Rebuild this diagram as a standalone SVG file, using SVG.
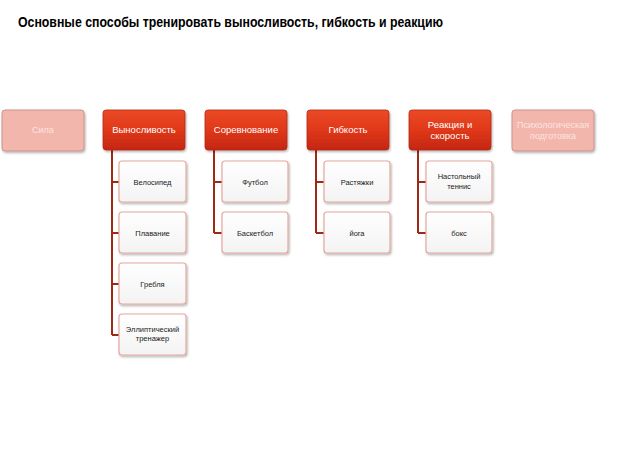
<svg xmlns="http://www.w3.org/2000/svg" width="620" height="465" viewBox="0 0 620 465">
<defs>
<linearGradient id="hg" x1="0" y1="0" x2="0" y2="1">
<stop offset="0" stop-color="#ea4a26"/>
<stop offset="0.5" stop-color="#e0381a"/>
<stop offset="1" stop-color="#c42610"/>
</linearGradient>
<linearGradient id="cg" x1="0" y1="0" x2="0" y2="1">
<stop offset="0" stop-color="#ffffff"/>
<stop offset="1" stop-color="#f3f3f3"/>
</linearGradient>
<filter id="sh" x="-10%" y="-10%" width="130%" height="140%">
<feDropShadow dx="1" dy="1.5" stdDeviation="1.2" flood-color="#000" flood-opacity="0.3"/>
</filter>
</defs>
<style>
.title{font-family:"Liberation Sans",Arial,sans-serif;font-weight:bold;font-size:15.5px;fill:#000}
.hd{fill:url(#hg);stroke:#b22a14;stroke-width:0.8;filter:url(#sh)}
.fd{fill:#f3b6ac;stroke:#c8938b;stroke-width:1;filter:url(#sh)}
.ch{fill:url(#cg);stroke:#e6a89e;stroke-width:1.2;filter:url(#sh)}
.ht{font-family:"Liberation Sans",Arial,sans-serif;font-size:9.5px;fill:#ffffff;text-anchor:middle}
.ft{font-family:"Liberation Sans",Arial,sans-serif;font-size:9px;fill:#fbe4e0;text-anchor:middle}
.ct{font-family:"Liberation Sans",Arial,sans-serif;font-size:7.5px;fill:#1a1a1a;text-anchor:middle}
.cn{fill:none;stroke:#9e2a16;stroke-width:2}
</style>
<rect width="620" height="465" fill="#ffffff"/>
<text class="title" x="18" y="27" textLength="425" lengthAdjust="spacingAndGlyphs">Основные способы тренировать выносливость, гибкость и реакцию</text>

<g id="connectors">
<path class="cn" d="M112,150 V335 M112,182 H119 M112,233 H119 M112,284 H119 M112,335 H119"/>
<path class="cn" d="M214,150 V233 M214,182 H222 M214,233 H222"/>
<path class="cn" d="M316,150 V233 M316,182 H324 M316,233 H324"/>
<path class="cn" d="M418,150 V233 M418,182 H426 M418,233 H426"/>
</g>

<g id="sila"><rect class="fd" x="2" y="110" width="82" height="41" rx="3"/><text class="ft" x="43" y="133">Сила</text></g>
<g id="vynoslivost"><rect class="hd" x="103" y="110" width="82" height="40" rx="3"/><text class="ht" x="144" y="133">Выносливость</text></g>
<g id="sorevnovanie"><rect class="hd" x="205" y="110" width="82" height="40" rx="3"/><text class="ht" x="246" y="133">Соревнование</text></g>
<g id="gibkost"><rect class="hd" x="307" y="110" width="82" height="40" rx="3"/><text class="ht" x="348" y="133">Гибкость</text></g>
<g id="reakciya"><rect class="hd" x="409" y="110" width="82" height="40" rx="3"/><text class="ht" x="450" y="127.5">Реакция и</text><text class="ht" x="450" y="138.5">скорость</text></g>
<g id="psih"><rect class="fd" x="512" y="110" width="82" height="41" rx="3"/><text class="ft" x="553" y="127.5">Психологическая</text><text class="ft" x="553" y="138.5">подготовка</text></g>

<g id="velosiped"><rect class="ch" x="119" y="161" width="67" height="41" rx="3"/><text class="ct" x="152.5" y="184.5">Велосипед</text></g>
<g id="plavanie"><rect class="ch" x="119" y="212" width="67" height="41" rx="3"/><text class="ct" x="152.5" y="235.5">Плавание</text></g>
<g id="greblya"><rect class="ch" x="119" y="263" width="67" height="41" rx="3"/><text class="ct" x="152.5" y="286.5">Гребля</text></g>
<g id="ellipt"><rect class="ch" x="119" y="314" width="67" height="41" rx="3"/><text class="ct" x="152.5" y="331.5">Эллиптический</text><text class="ct" x="152.5" y="341">тренажер</text></g>

<g id="futbol"><rect class="ch" x="222" y="161" width="66" height="41" rx="3"/><text class="ct" x="255" y="184.5">Футбол</text></g>
<g id="basketbol"><rect class="ch" x="222" y="212" width="66" height="41" rx="3"/><text class="ct" x="255" y="235.5">Баскетбол</text></g>

<g id="rastyazhki"><rect class="ch" x="324" y="161" width="66" height="41" rx="3"/><text class="ct" x="357" y="184.5">Растяжки</text></g>
<g id="yoga"><rect class="ch" x="324" y="212" width="66" height="41" rx="3"/><text class="ct" x="357" y="235.5">йога</text></g>

<g id="tennis"><rect class="ch" x="426" y="161" width="66" height="41" rx="3"/><text class="ct" x="459" y="178.5">Настольный</text><text class="ct" x="459" y="188.5">теннис</text></g>
<g id="boks"><rect class="ch" x="426" y="212" width="66" height="41" rx="3"/><text class="ct" x="459" y="235.5">бокс</text></g>
</svg>
